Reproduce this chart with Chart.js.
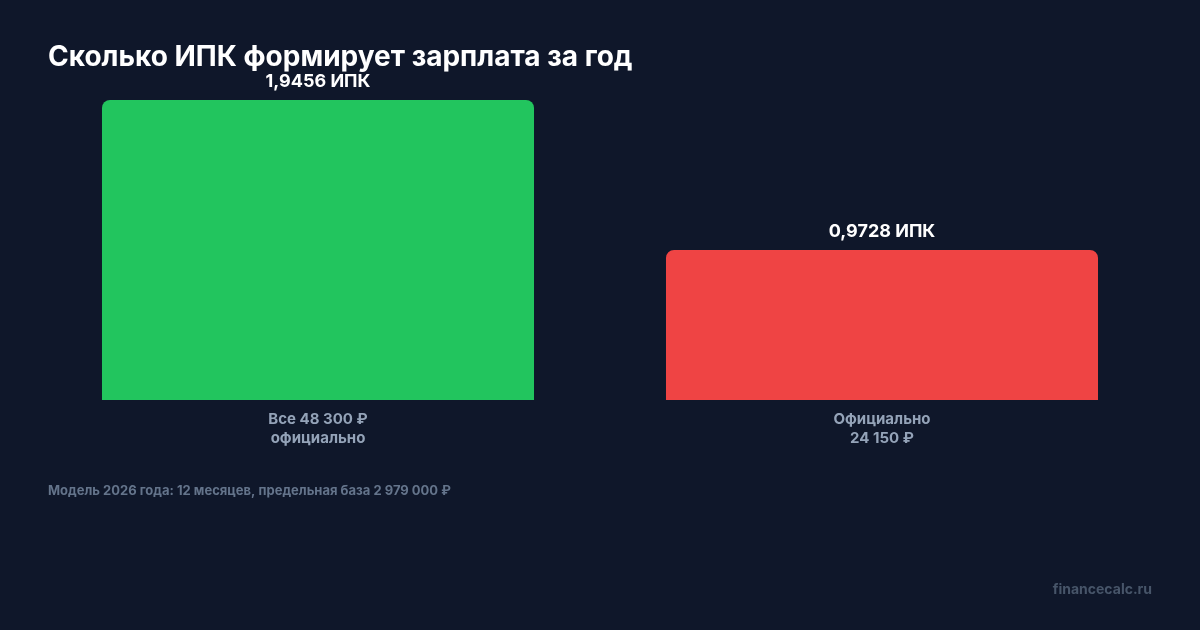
<!DOCTYPE html>
<html><head><meta charset="utf-8">
<script src="https://cdn.jsdelivr.net/npm/chart.js@4.4.1/dist/chart.umd.min.js"></script>
<style>html,body{margin:0;padding:0;background:#0f172a;}#wrap{width:1200px;height:630px;position:relative;}</style>
</head><body><div id="wrap"><canvas id="c" width="1200" height="630"></canvas></div>
<script>
const categories = [["Все 48 300 ₽","официально"],["Официально","24 150 ₽"]];
const values = [1.9456, 0.9728];
const valueLabels = ["1,9456 ИПК","0,9728 ИПК"];
const colors = ["#22c55e","#ef4444"];
const titleText = "Сколько ИПК формирует зарплата за год";
const footnote = "Модель 2026 года: 12 месяцев, предельная база 2 979 000 ₽";
const watermark = "financecalc.ru";

const FONT = "Inter, 'Noto Sans', sans-serif";
const overlay = {
  id:'overlay',
  afterDatasetsDraw(chart){
    const ctx = chart.ctx;
    ctx.save();
    const meta = chart.getDatasetMeta(0);
    ctx.fillStyle = '#ffffff';
    ctx.font = 'bold 18px ' + FONT;
    ctx.textAlign = 'center';
    ctx.textBaseline = 'middle';
    meta.data.forEach((bar,i)=>{ ctx.fillText(valueLabels[i], bar.x, bar.y - 18); });
    ctx.textAlign = 'left';
    ctx.font = 'bold 28px ' + FONT;
    ctx.fillText(titleText, 48, 58);
    ctx.fillStyle = '#64748b';
    ctx.font = 'bold 13px ' + FONT;
    ctx.fillText(footnote, 48, 491);
    ctx.textAlign = 'right';
    ctx.fillStyle = '#475569';
    ctx.font = 'bold 14px ' + FONT;
    ctx.fillText(watermark, 1152, 590);
    ctx.restore();
  }
};
new Chart(document.getElementById('c'), {
  type:'bar',
  data:{labels:categories, datasets:[{data:values, backgroundColor:colors,
    borderRadius:{topLeft:8,topRight:8,bottomLeft:0,bottomRight:0}, borderSkipped:false,
    barPercentage:0.766, categoryPercentage:1}]},
  options:{
    responsive:false, animation:false,
    layout:{padding:{top:100,left:36,right:36,bottom:180}},
    plugins:{legend:{display:false},tooltip:{enabled:false}},
    scales:{
      y:{display:false,min:0,max:1.9456},
      x:{grid:{display:false},border:{display:false},
        ticks:{color:'#94a3b8',font:{family:FONT,size:15,weight:'bold',lineHeight:1.27},padding:2}}
    }
  },
  plugins:[overlay]
});
</script></body></html>
